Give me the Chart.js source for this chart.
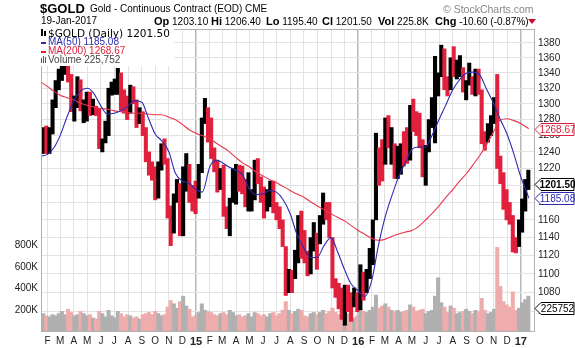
<!DOCTYPE html>
<html>
<head>
<meta charset="utf-8">
<script src="https://cdn.jsdelivr.net/npm/chart.js@4.4.0/dist/chart.umd.min.js"></script>
<style>
  body { margin: 0; background: #fff; font-family: "Liberation Sans", Arial, sans-serif; }
  #wrap { position: relative; width: 575px; height: 348px; overflow: hidden; }
  canvas { position: absolute; left: 0; top: 0; }
  .t { position: absolute; white-space: nowrap; color: #000; font-size: 10px; line-height: 12px; }
  .lg { position: absolute; white-space: nowrap; font-size: 10px; line-height: 10px; }
</style>
</head>
<body>
<div id="wrap">
  <canvas id="chart" width="575" height="348"></canvas>

  <div class="t" style="left:40px;top:1px;font-size:13px;line-height:15px;font-weight:bold">$GOLD</div>
  <div class="t" style="left:90px;top:3px">Gold - Continuous Contract (EOD) CME</div>
  <div class="t" style="left:443px;top:3px;font-size:10.5px;color:#888">© StockCharts.com</div>
  <div class="t" style="left:41px;top:15px">19-Jan-2017</div>
  <div class="t" style="left:154px;top:15px"><b style="font-size:11px">Op</b> 1203.10</div>
  <div class="t" style="left:211px;top:15px"><b style="font-size:11px">Hi</b> 1206.40</div>
  <div class="t" style="left:266px;top:15px"><b style="font-size:11px">Lo</b> 1195.40</div>
  <div class="t" style="left:322px;top:15px"><b style="font-size:11px">Cl</b> 1201.50</div>
  <div class="t" style="left:378px;top:15px"><b style="font-size:11px">Vol</b> 225.8K</div>
  <div class="t" style="left:435px;top:15px"><b style="font-size:11px">Chg</b> -10.60 (-0.87%)</div>
  <div style="position:absolute;left:528px;top:19px;width:0;height:0;border-left:4px solid transparent;border-right:4px solid transparent;border-top:5px solid #c8102e"></div>

  <!-- legend box sits on top of the plot, as in the original -->
  <div style="position:absolute;left:41px;top:29px;width:133px;height:37px;background:#fff"></div>
  <div style="position:absolute;left:41px;top:29px;width:2px;height:7px;background:#000"></div>
  <div style="position:absolute;left:44px;top:31px;width:2px;height:5px;background:#000"></div>
  <div class="lg" style="left:48px;top:27px;font-family:'DejaVu Sans';font-size:10.5px;line-height:12px">$GOLD (Daily) 1201.50</div>
  <div style="position:absolute;left:41px;top:42px;width:5px;height:2px;background:#2b2bb0"></div>
  <div class="lg" style="left:48px;top:37px;color:#2b2bb0">MA(50) 1185.08</div>
  <div style="position:absolute;left:41px;top:51px;width:5px;height:2px;background:#e0203c"></div>
  <div class="lg" style="left:48px;top:46px;color:#e0203c">MA(200) 1268.67</div>
  <div style="position:absolute;left:41px;top:58px;width:1px;height:5px;background:#555"></div>
  <div style="position:absolute;left:43px;top:56px;width:1px;height:7px;background:#555"></div>
  <div style="position:absolute;left:45px;top:57px;width:1px;height:6px;background:#555"></div>
  <div class="lg" style="left:48px;top:55px;color:#444">Volume 225,752</div>
</div>

<script>
// weekly bars, Monday 20-Jan-2014 to Monday 16-Jan-2017
const firstWeek = '2014-01-20';

const weekHigh = [
  // 2014
  1270,1272,1270,1305,1330,1345,1355,1385,1392,1338,1310,1335,1331,1305,1315,1315,1306,1297,1294,1256,
  1278,1320,1328,1332,1346,1340,1318,1310,1324,1322,1305,1295,1290,1270,1240,1228,1222,1228,1250,1256,
  1232,1176,1190,1207,1202,1222,1238,1225,1200,1205,
  // 2015
  1225,1282,1307,1295,1282,1245,1230,1220,1224,1175,1185,1220,1225,1224,1223,1207,1215,1195,1230,1232,
  1210,1198,1195,1205,1205,1180,1175,1160,1130,1105,1104,1126,1165,1170,1148,1125,1140,1157,1145,1165,
  1191,1180,1180,1140,1095,1090,1085,1088,1088,1080,1085,1080,
  // 2016
  1110,1102,1105,1128,1160,1263,1245,1255,1282,1285,1270,1250,1247,1250,1265,1270,1298,1306,1290,1288,
  1255,1248,1280,1308,1362,1340,1377,1372,1335,1360,1375,1357,1363,1347,1330,1353,1335,1345,1345,1318,
  1265,1275,1285,1308,1338,1235,1215,1195,1180,1165,1140,1160,
  // 2017
  1184,1207,1218
];
const weekLow = [
  1238,1238,1238,1262,1295,1318,1330,1338,1328,1290,1278,1295,1291,1276,1278,1285,1286,1285,1244,1240,
  1251,1260,1311,1312,1312,1292,1288,1280,1288,1300,1270,1275,1260,1228,1212,1206,1183,1185,1218,1225,
  1162,1131,1145,1180,1142,1142,1193,1180,1170,1167,
  1185,1215,1275,1252,1232,1216,1192,1195,1164,1150,1142,1180,1178,1193,1190,1175,1170,1170,1183,1202,
  1180,1162,1170,1175,1168,1160,1150,1130,1077,1080,1080,1095,1112,1117,1112,1098,1100,1125,1105,1133,
  1155,1160,1140,1085,1075,1063,1052,1046,1060,1050,1065,1060,
  1062,1072,1080,1095,1110,1160,1200,1205,1225,1245,1225,1208,1208,1213,1223,1226,1230,1265,1260,1245,
  1210,1200,1240,1270,1251,1310,1335,1318,1310,1318,1335,1332,1335,1315,1305,1324,1312,1310,1312,1250,
  1242,1252,1260,1275,1220,1202,1172,1160,1155,1124,1123,1130,
  1146,1170,1195
];
const weekClose = [
  1265,1240,1263,1300,1324,1328,1340,1380,1335,1294,1303,1318,1294,1300,1302,1290,1294,1292,1246,1253,
  1274,1316,1320,1320,1338,1310,1305,1296,1310,1305,1280,1287,1266,1230,1216,1215,1192,1222,1238,1231,
  1171,1168,1188,1197,1175,1192,1222,1196,1195,1186,
  1217,1277,1294,1279,1234,1228,1205,1213,1168,1153,1184,1199,1210,1206,1203,1178,1178,1188,1225,1205,
  1190,1172,1180,1201,1173,1168,1157,1133,1094,1095,1091,1113,1160,1134,1121,1104,1138,1145,1136,1155,
  1176,1162,1142,1088,1081,1076,1056,1085,1075,1065,1075,1061,
  1104,1090,1098,1117,1157,1239,1230,1222,1270,1250,1255,1220,1222,1240,1235,1231,1295,1290,1272,1252,
  1215,1244,1276,1298,1323,1338,1366,1330,1323,1357,1337,1340,1341,1321,1327,1330,1310,1339,1316,1257,
  1252,1267,1276,1305,1226,1208,1183,1178,1162,1134,1133,1152,
  1173,1196,1201.5
];
// typical daily volume in each week, thousands of contracts
const weekVol = [
  170,150,140,160,150,170,190,160,210,180,150,160,190,170,150,160,130,120,190,170,
  140,200,150,130,190,170,140,160,150,130,140,120,160,170,180,160,190,170,150,160,
  230,290,260,220,280,330,240,210,140,150,
  180,260,200,190,180,160,150,170,180,160,200,180,150,160,140,150,170,140,180,170,
  150,160,140,170,180,150,170,200,280,200,170,190,210,200,150,140,170,180,160,180,
  200,170,190,220,180,160,150,240,170,200,130,150,
  210,190,180,200,230,340,220,240,260,230,200,190,200,180,190,200,250,230,190,200,
  210,170,190,200,330,500,270,230,180,240,220,170,180,190,210,190,170,200,190,310,
  200,170,180,210,780,420,280,250,230,370,200,220,
  270,300,330
];
const lastVolume = 225752;

// moving averages
const maDates = [
  '2014-01-17','2014-02-01','2014-02-15','2014-03-01','2014-03-15','2014-04-01','2014-04-15','2014-05-01',
  '2014-05-15','2014-06-01','2014-06-15','2014-07-01','2014-07-15','2014-08-01','2014-08-15','2014-09-01',
  '2014-09-15','2014-10-01','2014-10-15','2014-11-01','2014-11-15','2014-12-01','2014-12-15',
  '2015-01-01','2015-01-15','2015-02-01','2015-02-15','2015-03-01','2015-03-15','2015-04-01','2015-04-15',
  '2015-05-01','2015-05-15','2015-06-01','2015-06-15','2015-07-01','2015-07-15','2015-08-01','2015-08-15',
  '2015-09-01','2015-09-15','2015-10-01','2015-10-15','2015-11-01','2015-11-15','2015-12-01','2015-12-15',
  '2016-01-01','2016-01-15','2016-02-01','2016-02-15','2016-03-01','2016-03-15','2016-04-01','2016-04-15',
  '2016-05-01','2016-05-15','2016-06-01','2016-06-15','2016-07-01','2016-07-15','2016-08-01','2016-08-15',
  '2016-09-01','2016-09-15','2016-10-01','2016-10-15','2016-11-01','2016-11-15','2016-12-01','2016-12-15',
  '2017-01-01','2017-01-15','2017-01-19'
];
const ma50 = [
  1235,1237,1245,1260,1281,1304,1316,1320,1314,1297,1287,1288,1291,1297,1304,1302,1283,1262,1254,1240,1215,1205,1203,
  1195,1192,1222,1230,1227,1222,1218,1213,1196,1189,1190,1194,1192,1184,1167,1145,1128,1118,1118,1130,1140,1125,1105,1090,
  1082,1076,1094,1130,1162,1185,1210,1226,1243,1246,1246,1260,1280,1297,1318,1330,1340,1341,1337,1320,1300,1281,1262,1240,
  1210,1191,1185.08
];
const ma200 = [
  1328,1322,1316,1311,1308,1305,1301,1298,1296,1294,1293,1291,1290,1289,1288,1288,1287,1286,1286,1283,1280,1274,1268,
  1263,1260,1256,1251,1246,1241,1233,1227,1222,1216,1211,1207,1203,1199,1194,1190,1186,1181,1176,1172,1167,1163,1159,1154,
  1148,1144,1139,1137,1138,1141,1144,1146,1148,1152,1160,1167,1176,1185,1195,1204,1214,1224,1236,1248,1265,1279,1281,1279,
  1275,1270,1268.67
];

const priceTicks = [1060,1080,1100,1120,1140,1160,1180,1200,1220,1240,1260,1280,1300,1320,1340,1360,1380];
const volTicks = [200000,400000,600000,800000];
const monthLetters = ['J','F','M','A','M','J','J','A','S','O','N','D'];

const FONT = '"Liberation Sans", Arial, sans-serif';
const RED = '#e0203c', BLUE = '#2b2bb0';

const base = Date.UTC(2014, 0, 1);
const dayOf = s => { const p = s.split('-').map(Number); return (Date.UTC(p[0], p[1] - 1, p[2]) - base) / 864e5; };

const start = dayOf(firstWeek);
const weekX = weekClose.map((c, i) => start + i * 7 + 2);
const up = weekClose.map((c, i) => i === 0 || c >= weekClose[i - 1]);

// month start ticks
const monthTicks = [];
const tickInfo = {};
for (let y = 2014; y <= 2017; y++) {
  for (let m = 0; m < 12; m++) {
    const d = (Date.UTC(y, m, 1) - base) / 864e5;
    if (d < 20 || d > 1120) continue;
    monthTicks.push(d);
    tickInfo[d] = m === 0 ? { label: String(y).slice(2), year: true } : { label: monthLetters[m], year: false };
  }
}
const isYear = c => !!(c.tick && tickInfo[c.tick.value] && tickInfo[c.tick.value].year);

const tags = [
  { axis: 'yPrice', value: ma200[ma200.length - 1], text: ma200[ma200.length - 1].toFixed(2), color: RED },
  { axis: 'yPrice', value: weekClose[weekClose.length - 1], text: weekClose[weekClose.length - 1].toFixed(2), color: '#000', bold: true },
  { axis: 'yPrice', value: ma50[ma50.length - 1], text: ma50[ma50.length - 1].toFixed(2), color: BLUE },
  { axis: 'yVol', value: lastVolume, text: String(lastVolume), color: '#000' }
];

const framePlugin = {
  id: 'frameAndTags',
  afterDraw(chart) {
    const ctx = chart.ctx, a = chart.chartArea;
    ctx.save();
    ctx.strokeStyle = '#b0b0b0';
    ctx.lineWidth = 1;
    ctx.strokeRect(a.left + 0.5, a.top + 0.5, a.right - a.left - 1, a.bottom - a.top - 1);
    tags.forEach(t => {
      const y = Math.round(chart.scales[t.axis].getPixelForValue(t.value)) + 0.5;
      const x0 = a.right, x1 = a.right + 6, x2 = 574;
      ctx.beginPath();
      ctx.moveTo(x0, y);
      ctx.lineTo(x1, y - 6);
      ctx.lineTo(x2, y - 6);
      ctx.lineTo(x2, y + 6);
      ctx.lineTo(x1, y + 6);
      ctx.closePath();
      ctx.fillStyle = '#fff';
      ctx.fill();
      ctx.strokeStyle = t.color;
      ctx.stroke();
      ctx.fillStyle = t.color;
      ctx.font = (t.bold ? 'bold ' : '') + '10px ' + FONT;
      ctx.textBaseline = 'middle';
      ctx.textAlign = 'center';
      ctx.fillText(t.text, (x1 + x2) / 2, y + 0.5);
    });
    ctx.restore();
  }
};

new Chart(document.getElementById('chart'), {
  type: 'bar',
  data: {
    datasets: [
      {
        type: 'line', label: 'MA(50)', yAxisID: 'yPrice', order: 0,
        data: maDates.map((d, i) => ({ x: dayOf(d), y: ma50[i] })),
        borderColor: BLUE, borderWidth: 1.1, pointRadius: 0, cubicInterpolationMode: 'monotone'
      },
      {
        type: 'line', label: 'MA(200)', yAxisID: 'yPrice', order: 0,
        data: maDates.map((d, i) => ({ x: dayOf(d), y: ma200[i] })),
        borderColor: '#e8364f', borderWidth: 1.1, pointRadius: 0, cubicInterpolationMode: 'monotone'
      },
      {
        label: '$GOLD', yAxisID: 'yPrice', order: 1, grouped: false,
        data: weekX.map((x, i) => ({ x: x, y: [weekLow[i], weekHigh[i]] })),
        backgroundColor: up.map(u => u ? '#000' : RED),
        barThickness: 3.4
      },
      {
        label: 'Volume', yAxisID: 'yVol', order: 2, grouped: false,
        data: weekX.map((x, i) => ({ x: x, y: weekVol[i] * 1000 })),
        backgroundColor: up.map(u => u ? '#b0b0b0' : '#eeacac'),
        barThickness: 3.4
      }
    ]
  },
  options: {
    responsive: false,
    animation: false,
    layout: { padding: { top: 29, left: 0, right: 0, bottom: 0 } },
    plugins: { legend: { display: false }, tooltip: { enabled: false } },
    scales: {
      x: {
        type: 'linear', min: 16, max: 1128, offset: false,
        afterBuildTicks: s => { s.ticks = monthTicks.map(v => ({ value: v })); },
        afterFit: s => { s.height = 16; },
        border: { display: false },
        grid: {
          offset: false, drawTicks: false,
          color: c => isYear(c) ? '#b8b8b8' : '#e2e2e2',
          lineWidth: c => isYear(c) ? 1.5 : 1
        },
        ticks: {
          autoSkip: false, maxRotation: 0, padding: 3, color: '#222',
          callback: v => tickInfo[v] ? tickInfo[v].label : '',
          font: c => isYear(c) ? { family: FONT, size: 11, weight: 'bold' } : { family: FONT, size: 10 }
        }
      },
      yPrice: {
        type: 'logarithmic', position: 'right', min: 1039.1, max: 1399.0,
        afterBuildTicks: s => { s.ticks = priceTicks.map(v => ({ value: v })); },
        afterFit: s => { s.width = 40; },
        border: { display: false },
        grid: { color: '#e2e2e2', drawTicks: false },
        ticks: { autoSkip: false, padding: 3, color: '#222', font: { family: FONT, size: 10 }, callback: v => String(v) }
      },
      yVol: {
        type: 'linear', position: 'left', min: 0, max: 2793000,
        afterBuildTicks: s => { s.ticks = volTicks.map(v => ({ value: v })); },
        afterFit: s => { s.width = 41; },
        border: { display: false },
        grid: { display: false, drawTicks: false },
        ticks: { autoSkip: false, padding: 3, color: '#222', font: { family: FONT, size: 10 }, callback: v => (v / 1000) + 'K' }
      }
    }
  },
  plugins: [framePlugin]
});
</script>
</body>
</html>
